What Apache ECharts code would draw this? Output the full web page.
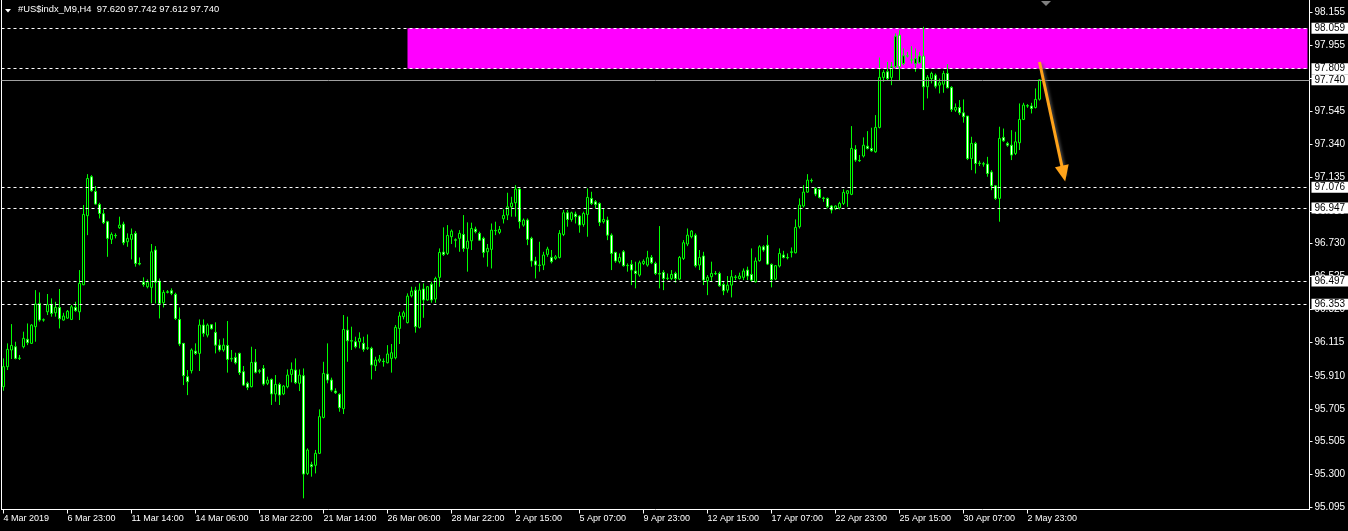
<!DOCTYPE html>
<html><head><meta charset="utf-8">
<script src="https://cdn.jsdelivr.net/npm/echarts@6/dist/echarts.min.js"></script>
<style>html,body{margin:0;padding:0;background:#000;overflow:hidden}#c{width:1348px;height:531px}</style>
</head><body><div id="c"></div>
<script>
const symbolName = '#US$indx_M9,H4';
const xTickLabels = ['4 Mar 2019','6 Mar 23:00','11 Mar 14:00','14 Mar 06:00','18 Mar 22:00','21 Mar 14:00','26 Mar 06:00','28 Mar 22:00','2 Apr 15:00','5 Apr 07:00','9 Apr 23:00','12 Apr 15:00','17 Apr 07:00','22 Apr 23:00','25 Apr 15:00','30 Apr 07:00','2 May 23:00'];
const barsPerLabel = 16;
const totalSlots = 327; // bars + empty chart-shift area
const yTickValues = [98.155,97.955,97.750,97.545,97.340,97.135,96.930,96.730,96.525,96.320,96.115,95.910,95.705,95.505,95.300,95.095];
const yMin = 95.0839, yMax = 98.2335;

const opens = [
95.843,95.967,96.070,96.090,96.018,96.090,96.136,96.111,96.214,96.358,96.255,96.306,96.352,96.300,96.333,96.255,96.267,96.259,96.333,96.306,
96.473,96.900,97.141,97.050,96.970,96.912,96.863,96.754,96.778,96.826,96.848,96.739,96.754,96.791,96.605,96.490,96.461,96.457,96.688,96.496,
96.362,96.426,96.436,96.414,96.259,96.111,95.905,95.942,96.063,96.049,96.224,96.162,96.226,96.179,96.100,96.070,96.098,96.014,96.024,96.049,
95.936,95.864,95.843,95.995,95.938,95.956,95.864,95.888,95.798,95.857,95.798,95.843,95.919,95.946,95.864,95.911,95.307,95.361,95.357,95.431,
95.653,95.921,95.884,95.816,95.796,95.707,96.193,96.127,96.121,96.121,96.111,96.080,96.080,95.973,96.002,96.000,95.991,96.018,96.022,96.203,
96.276,96.239,96.405,96.440,96.210,96.447,96.379,96.477,96.385,96.519,96.675,96.667,96.770,96.751,96.760,96.784,96.698,96.745,96.817,96.791,
96.760,96.677,96.692,96.809,96.797,96.881,96.904,96.955,96.980,97.065,96.842,96.873,96.760,96.620,96.595,96.595,96.661,96.642,96.636,96.642,
96.784,96.918,96.877,96.910,96.898,96.846,96.908,97.007,96.986,96.976,96.863,96.873,96.780,96.673,96.616,96.677,96.591,96.599,96.558,96.533,
96.605,96.595,96.642,96.605,96.543,96.550,96.512,96.512,96.543,96.508,96.636,96.725,96.770,96.780,96.595,96.651,96.498,96.523,96.543,96.543,
96.475,96.440,96.471,96.521,96.512,96.519,96.564,96.537,96.492,96.622,96.708,96.718,96.599,96.508,96.589,96.657,96.642,96.673,96.671,96.832,
96.960,97.046,97.118,97.069,97.063,97.009,97.007,96.960,96.943,96.949,96.976,97.038,97.032,97.310,97.242,97.269,97.330,97.316,97.295,97.446,
97.755,97.790,97.755,97.821,98.016,97.841,97.889,97.864,97.841,97.845,97.887,97.697,97.748,97.769,97.707,97.713,97.779,97.693,97.553,97.569,
97.536,97.516,97.254,97.347,97.225,97.221,97.219,97.170,97.085,97.007,97.384,97.347,97.336,97.285,97.351,97.495,97.580,97.578,97.569,97.620];
const highs = [
96.018,96.111,96.230,96.121,96.039,96.183,96.234,96.230,96.440,96.426,96.265,96.416,96.389,96.368,96.447,96.300,96.317,96.348,96.368,96.564,
96.966,97.157,97.151,97.083,96.980,96.939,96.869,96.797,96.791,96.894,96.863,96.791,96.821,96.805,96.642,96.519,96.506,96.725,96.712,96.512,
96.440,96.440,96.451,96.424,96.333,96.111,95.946,96.080,96.111,96.259,96.259,96.234,96.230,96.241,96.136,96.142,96.249,96.070,96.053,96.053,
95.971,95.874,96.090,96.076,95.952,95.977,95.905,95.894,95.915,95.868,95.853,95.950,95.993,96.018,95.950,95.956,95.462,95.379,95.452,95.703,
95.997,96.111,95.899,95.833,95.802,96.286,96.276,96.214,96.152,96.179,96.152,96.166,96.090,96.028,96.039,96.018,96.100,96.107,96.224,96.306,
96.313,96.420,96.461,96.461,96.482,96.482,96.465,96.492,96.523,96.698,96.828,96.842,96.815,96.760,96.811,96.904,96.859,96.857,96.832,96.801,
96.770,96.725,96.852,96.863,96.836,96.939,97.042,97.017,97.089,97.075,96.883,96.883,96.770,96.646,96.739,96.677,96.708,96.688,96.657,96.811,
96.935,96.935,96.925,96.925,96.904,96.925,97.069,97.048,96.997,96.982,96.945,96.894,96.791,96.677,96.667,96.688,96.605,96.626,96.616,96.622,
96.630,96.683,96.657,96.616,96.836,96.564,96.543,96.564,96.554,96.651,96.749,96.821,96.811,96.791,96.688,96.677,96.533,96.616,96.558,96.554,
96.492,96.527,96.564,96.533,96.548,96.574,96.585,96.698,96.642,96.718,96.718,96.780,96.605,96.595,96.698,96.683,96.667,96.704,96.877,97.007,
97.089,97.157,97.130,97.075,97.069,97.017,97.013,96.966,96.964,96.986,97.063,97.058,97.454,97.336,97.275,97.384,97.423,97.444,97.522,97.878,
97.800,97.851,97.851,98.027,98.047,97.934,97.913,97.948,97.934,97.913,98.068,97.769,97.790,97.779,97.748,97.796,97.837,97.701,97.594,97.615,
97.619,97.516,97.388,97.357,97.240,97.233,97.264,97.182,97.089,97.450,97.439,97.357,97.429,97.419,97.594,97.598,97.590,97.598,97.687,97.742];
const lows = [
95.818,95.946,96.014,96.012,96.008,96.080,96.100,96.107,96.121,96.245,96.245,96.286,96.276,96.276,96.203,96.251,96.263,96.255,96.306,96.255,
96.471,96.780,97.048,96.968,96.883,96.848,96.646,96.725,96.760,96.819,96.718,96.708,96.630,96.585,96.593,96.461,96.451,96.358,96.358,96.265,
96.333,96.420,96.409,96.255,96.094,95.853,95.791,95.925,96.039,95.940,96.152,96.148,96.197,96.049,96.059,96.059,95.930,95.997,95.981,95.915,
95.847,95.822,95.839,95.925,95.925,95.849,95.853,95.730,95.750,95.730,95.791,95.833,95.870,95.859,95.816,95.153,95.297,95.287,95.307,95.427,
95.647,95.864,95.812,95.798,95.688,95.674,95.997,96.070,96.080,96.080,96.059,96.070,95.888,95.940,95.991,95.967,95.987,95.930,96.012,96.107,
96.259,96.234,96.395,96.177,96.203,96.269,96.375,96.362,96.362,96.461,96.651,96.657,96.725,96.704,96.677,96.677,96.554,96.688,96.791,96.745,
96.642,96.585,96.574,96.780,96.786,96.852,96.873,96.894,96.894,96.821,96.832,96.718,96.585,96.512,96.554,96.564,96.646,96.605,96.626,96.636,
96.774,96.832,96.863,96.852,96.795,96.832,96.770,96.966,96.945,96.836,96.852,96.749,96.564,96.609,96.605,96.585,96.554,96.471,96.451,96.523,
96.595,96.585,96.601,96.533,96.451,96.440,96.502,96.502,96.486,96.502,96.626,96.712,96.760,96.580,96.564,96.471,96.409,96.492,96.533,96.461,
96.409,96.424,96.395,96.502,96.506,96.502,96.502,96.492,96.486,96.616,96.677,96.595,96.457,96.502,96.580,96.636,96.630,96.642,96.667,96.821,
96.951,97.042,97.104,97.021,97.007,96.986,96.945,96.914,96.935,96.939,96.966,96.955,97.027,97.233,97.233,97.260,97.310,97.295,97.289,97.440,
97.728,97.738,97.707,97.810,97.734,97.831,97.878,97.841,97.790,97.841,97.553,97.625,97.718,97.687,97.656,97.660,97.687,97.542,97.542,97.522,
97.475,97.244,97.182,97.161,97.207,97.203,97.141,97.058,96.997,96.863,97.357,97.326,97.244,97.275,97.306,97.491,97.567,97.532,97.563,97.612];
const closes = [
95.967,96.074,96.098,96.018,96.020,96.142,96.115,96.224,96.354,96.255,96.257,96.350,96.296,96.333,96.263,96.280,96.309,96.337,96.313,96.482,
96.908,97.130,97.054,96.972,96.914,96.857,96.760,96.784,96.776,96.842,96.733,96.760,96.784,96.605,96.601,96.475,96.488,96.677,96.488,96.358,
96.426,96.430,96.420,96.265,96.107,95.911,95.874,96.070,96.049,96.224,96.173,96.224,96.201,96.100,96.070,96.100,96.012,96.018,95.991,95.930,
95.853,95.839,95.993,95.932,95.942,95.859,95.884,95.798,95.857,95.791,95.847,95.915,95.950,95.868,95.915,95.303,95.452,95.349,95.431,95.658,
95.925,95.884,95.822,95.806,95.713,96.197,96.127,96.125,96.090,96.142,96.074,96.084,95.977,96.008,96.014,95.998,96.045,96.053,96.210,96.280,
96.300,96.403,96.434,96.214,96.440,96.379,96.461,96.379,96.512,96.673,96.661,96.778,96.805,96.749,96.791,96.698,96.743,96.821,96.801,96.749,
96.673,96.698,96.811,96.807,96.815,96.902,96.955,96.978,97.065,96.863,96.873,96.754,96.620,96.595,96.593,96.657,96.694,96.616,96.646,96.791,
96.918,96.877,96.918,96.894,96.842,96.914,97.013,96.976,96.970,96.859,96.877,96.780,96.667,96.620,96.642,96.591,96.593,96.564,96.543,96.609,
96.618,96.640,96.609,96.543,96.539,96.512,96.514,96.537,96.512,96.642,96.733,96.780,96.805,96.591,96.642,96.502,96.519,96.543,96.541,96.467,
96.436,96.471,96.523,96.519,96.527,96.558,96.527,96.502,96.620,96.708,96.688,96.601,96.506,96.591,96.667,96.642,96.640,96.677,96.828,96.966,
97.046,97.120,97.116,97.034,97.013,97.007,96.955,96.935,96.960,96.976,97.044,97.054,97.316,97.244,97.240,97.336,97.316,97.301,97.446,97.755,
97.786,97.748,97.821,98.010,97.821,97.889,97.887,97.862,97.872,97.887,97.697,97.755,97.779,97.701,97.722,97.779,97.691,97.557,97.569,97.536,
97.512,97.254,97.347,97.223,97.223,97.219,97.161,97.085,97.007,97.378,97.363,97.336,97.275,97.357,97.495,97.584,97.578,97.563,97.619,97.740];

const levelLines = [98.059, 97.809, 97.076, 96.947, 96.497, 96.353];
const bidPrice = 97.740;
const resistanceZone = { fromBar: 101, toBar: 326, top: 98.059, bottom: 97.809 };
const arrowStart = [259, 97.850];
const arrowEnd = [265, 97.16];

const nBars = Math.min(opens.length, highs.length, lows.length, closes.length);
const categories = Array.from({length: totalSlots}, (_, i) => String(i));
const candleData = [];
for (let i = 0; i < nBars; i++) {
  const o = opens[i], c = closes[i];
  candleData.push([o, c, Math.min(lows[i], o, c), Math.max(highs[i], o, c)]);
}
const last = nBars - 1;
const isLabelIdx = i => i % barsPerLabel === 0 && (i / barsPerLabel) < xTickLabels.length;
const FONT = 'Liberation Sans';
const GREEN = '#00ff00';

const chart = echarts.init(document.getElementById('c'), null, {renderer: 'canvas'});
chart.setOption({
  animation: false,
  backgroundColor: '#000',
  textStyle: {fontFamily: FONT},
  title: {
    text: symbolName + '  ' + [opens[last], highs[last], lows[last], closes[last]].map(v => v.toFixed(3)).join(' '),
    left: 18, top: 5, padding: 0,
    textStyle: {color: '#fff', fontSize: 9.4, fontWeight: 'normal', fontFamily: FONT}
  },
  graphic: [
    {type: 'polygon', shape: {points: [[5, 9], [11, 9], [8, 12.5]]}, style: {fill: '#fff'}},
    {type: 'polygon', shape: {points: [[1041, 1], [1051, 1], [1046, 6]]}, style: {fill: '#808080'}}
  ],
  grid: {left: 1.5, right: 38.5, top: 0, bottom: 21.5, show: false, outerBoundsMode: 'none', containLabel: false},
  xAxis: {
    type: 'category', data: categories, boundaryGap: true,
    axisLine: {show: true, lineStyle: {color: '#fff', width: 1}},
    axisTick: {show: true, alignWithLabel: true, length: 4, interval: (i) => isLabelIdx(i), lineStyle: {color: '#fff'}},
    axisLabel: {show: true, interval: (i) => isLabelIdx(i), formatter: (v, i) => xTickLabels[i / barsPerLabel] || '',
      align: 'left', color: '#fff', fontSize: 9, fontFamily: FONT, margin: 5},
    splitLine: {show: false}
  },
  yAxis: [{
    type: 'value', position: 'right', min: yMin, max: yMax,
    axisLine: {show: true, lineStyle: {color: '#fff'}},
    axisTick: {show: true, length: 3, lineStyle: {color: '#fff'}, customValues: yTickValues},
    axisLabel: {color: '#fff', fontSize: 10, fontFamily: FONT, margin: 5, customValues: yTickValues, formatter: v => v.toFixed(3)},
    splitLine: {show: false}
  }, {
    type: 'value', position: 'left', min: yMin, max: yMax,
    axisLine: {show: true, onZero: false, lineStyle: {color: '#fff'}},
    axisTick: {show: false}, axisLabel: {show: false}, splitLine: {show: false}
  }],
  series: [
    {
      name: 'zone', type: 'line', data: [], z: 1, silent: true, clip: false,
      markArea: {silent: true, itemStyle: {color: '#ff00ff', opacity: 1},
        data: [[{coord: [resistanceZone.fromBar, resistanceZone.top]}, {coord: [resistanceZone.toBar, resistanceZone.bottom]}]]}
    },
    {
      name: 'levels', type: 'line', data: [], z: 2, silent: true, clip: false,
      markLine: {
        silent: true, symbol: ['none', 'none'], precision: 3,
        label: {show: true, position: 'end', distance: 2, formatter: p => Number(p.value).toFixed(3),
          color: '#000', backgroundColor: '#fff', padding: [1, 3, 0, 3], fontSize: 10, fontFamily: FONT},
        data: levelLines.map(v => ({yAxis: v, lineStyle: {color: '#fff', type: [3, 3], width: 1}}))
          .concat([{yAxis: bidPrice, lineStyle: {color: '#a0a0a0', type: 'solid', width: 1}}])
      }
    },
    {
      name: 'price', type: 'candlestick', data: candleData, z: 3, barWidth: 3,
      itemStyle: {color: '#000', color0: '#fff', borderColor: GREEN, borderColor0: GREEN, borderColorDoji: GREEN, borderWidth: 1}
    },
    {
      name: 'arrow', type: 'line', data: [], z: 4, silent: true, clip: false,
      markLine: {
        silent: true, symbol: ['none', 'triangle'], symbolSize: [14, 16],
        label: {show: false},
        lineStyle: {color: '#ffa31a', width: 3, type: 'solid', shadowColor: 'rgba(90,90,90,0.8)', shadowBlur: 3, shadowOffsetX: 2, shadowOffsetY: 2},
        data: [[{coord: arrowStart}, {coord: arrowEnd}]]
      }
    }
  ]
});
</script>
</body></html>
